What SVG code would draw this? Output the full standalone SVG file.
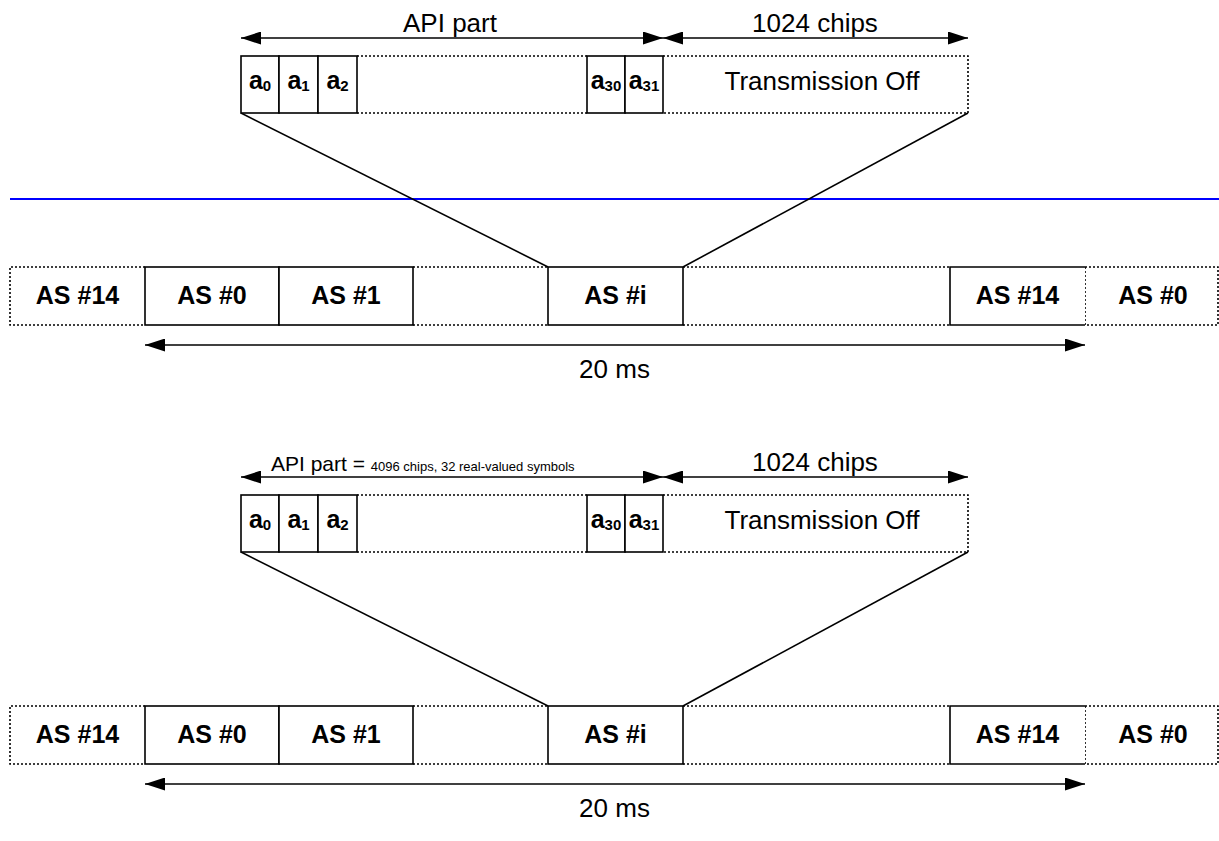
<svg xmlns="http://www.w3.org/2000/svg" width="1219" height="841" viewBox="0 0 1219 841">
<style>
.s{fill:#fff;stroke:#000;stroke-width:1.6}
.d{fill:none;stroke:#000;stroke-width:1.6;stroke-dasharray:2 2}
.ln{fill:none;stroke:#000;stroke-width:1.6}
.ar{fill:none;stroke:#000;stroke-width:1.6;marker-start:url(#ah);marker-end:url(#ah)}
.t{font-family:"Liberation Sans",Arial,sans-serif;font-size:26px;fill:#000;text-anchor:middle}
.b{font-family:"Liberation Sans",Arial,sans-serif;font-size:25px;font-weight:bold;fill:#000;text-anchor:middle}
.sub{font-size:15px}
</style>
<defs>
<marker id="ah" viewBox="0 0 10 10" refX="10" refY="5" markerWidth="20" markerHeight="13" markerUnits="userSpaceOnUse" orient="auto-start-reverse" preserveAspectRatio="none">
<path d="M0,0 L10,5 L0,10 z" fill="#000"/>
</marker>
</defs>
<rect width="1219" height="841" fill="#fff"/>

<line id="separator" x1="10" y1="199" x2="1219" y2="199" stroke="#0000FF" stroke-width="2"/>

<!-- Section 1 -->
<g id="sec1">
  <g id="s1-connectors">
    <line class="ar" x1="241" y1="38" x2="663" y2="38"/>
    <line class="ar" x1="663" y1="38" x2="968" y2="38"/>
    <line class="ln" x1="241" y1="113" x2="548" y2="267"/>
    <line class="ln" x1="968" y1="113" x2="683" y2="267"/>
    <line class="ar" x1="145" y1="345" x2="1085" y2="345"/>
  </g>
  <text class="t" x="450" y="32">API part</text>
  <text class="t" x="815" y="32">1024 chips</text>
  <g id="s1-sym">
    <line class="d" x1="357" y1="56" x2="587" y2="56"/>
    <line class="d" x1="357" y1="113" x2="587" y2="113"/>
    <path class="d" d="M663,56 H968 V113 H663"/>
    <text class="t" x="822" y="90">Transmission Off</text>
    <rect class="s" x="241" y="56" width="38" height="57"/>
    <rect class="s" x="279" y="56" width="39" height="57"/>
    <rect class="s" x="318" y="56" width="39" height="57"/>
    <rect class="s" x="587" y="56" width="38" height="57"/>
    <rect class="s" x="625" y="56" width="38" height="57"/>
    <text class="b" x="260" y="89">a<tspan class="sub" dy="2">0</tspan></text>
    <text class="b" x="298.5" y="89">a<tspan class="sub" dy="2">1</tspan></text>
    <text class="b" x="337.5" y="89">a<tspan class="sub" dy="2">2</tspan></text>
    <text class="b" x="606" y="89">a<tspan class="sub" dy="2">30</tspan></text>
    <text class="b" x="644" y="89">a<tspan class="sub" dy="2">31</tspan></text>
  </g>
  <g id="s1-row">
    <path class="d" d="M145,267 H10 V325 H145"/>
    <line class="d" x1="413" y1="267" x2="548" y2="267"/>
    <line class="d" x1="413" y1="325" x2="548" y2="325"/>
    <line class="d" x1="683" y1="267" x2="950" y2="267"/>
    <line class="d" x1="683" y1="325" x2="950" y2="325"/>
    <path class="d" d="M1085,267 H1218 V325 H1085 V267"/>
    <rect class="s" x="145" y="267" width="134" height="58"/>
    <rect class="s" x="279" y="267" width="134" height="58"/>
    <rect class="s" x="548" y="267" width="135" height="58"/>
    <path class="s" d="M1085,325 H950 V267 H1085"/>
    <text class="b" x="77.5" y="304">AS #14</text>
    <text class="b" x="212" y="304">AS #0</text>
    <text class="b" x="346" y="304">AS #1</text>
    <text class="b" x="615.5" y="304">AS #i</text>
    <text class="b" x="1017.5" y="304">AS #14</text>
    <text class="b" x="1153" y="304">AS #0</text>
  </g>
  <text class="t" x="614.5" y="378">20 ms</text>
</g>

<!-- Section 2 -->
<g id="sec2" transform="translate(0,439)">
  <g id="s2-connectors">
    <line class="ar" x1="241" y1="38" x2="663" y2="38"/>
    <line class="ar" x1="663" y1="38" x2="968" y2="38"/>
    <line class="ln" x1="241" y1="113" x2="548" y2="267"/>
    <line class="ln" x1="968" y1="113" x2="683" y2="267"/>
    <line class="ar" x1="145" y1="345" x2="1085" y2="345"/>
  </g>
  <text x="271" y="32" font-family="Liberation Sans, Arial, sans-serif" font-size="21" fill="#000">API part = <tspan font-size="13">4096 chips, 32 real-valued symbols</tspan></text>
  <text class="t" x="815" y="32">1024 chips</text>
  <g id="s2-sym">
    <line class="d" x1="357" y1="56" x2="587" y2="56"/>
    <line class="d" x1="357" y1="113" x2="587" y2="113"/>
    <path class="d" d="M663,56 H968 V113 H663"/>
    <text class="t" x="822" y="90">Transmission Off</text>
    <rect class="s" x="241" y="56" width="38" height="57"/>
    <rect class="s" x="279" y="56" width="39" height="57"/>
    <rect class="s" x="318" y="56" width="39" height="57"/>
    <rect class="s" x="587" y="56" width="38" height="57"/>
    <rect class="s" x="625" y="56" width="38" height="57"/>
    <text class="b" x="260" y="89">a<tspan class="sub" dy="2">0</tspan></text>
    <text class="b" x="298.5" y="89">a<tspan class="sub" dy="2">1</tspan></text>
    <text class="b" x="337.5" y="89">a<tspan class="sub" dy="2">2</tspan></text>
    <text class="b" x="606" y="89">a<tspan class="sub" dy="2">30</tspan></text>
    <text class="b" x="644" y="89">a<tspan class="sub" dy="2">31</tspan></text>
  </g>
  <g id="s2-row">
    <path class="d" d="M145,267 H10 V325 H145"/>
    <line class="d" x1="413" y1="267" x2="548" y2="267"/>
    <line class="d" x1="413" y1="325" x2="548" y2="325"/>
    <line class="d" x1="683" y1="267" x2="950" y2="267"/>
    <line class="d" x1="683" y1="325" x2="950" y2="325"/>
    <path class="d" d="M1085,267 H1218 V325 H1085 V267"/>
    <rect class="s" x="145" y="267" width="134" height="58"/>
    <rect class="s" x="279" y="267" width="134" height="58"/>
    <rect class="s" x="548" y="267" width="135" height="58"/>
    <path class="s" d="M1085,325 H950 V267 H1085"/>
    <text class="b" x="77.5" y="304">AS #14</text>
    <text class="b" x="212" y="304">AS #0</text>
    <text class="b" x="346" y="304">AS #1</text>
    <text class="b" x="615.5" y="304">AS #i</text>
    <text class="b" x="1017.5" y="304">AS #14</text>
    <text class="b" x="1153" y="304">AS #0</text>
  </g>
  <text class="t" x="614.5" y="378">20 ms</text>
</g>
</svg>
